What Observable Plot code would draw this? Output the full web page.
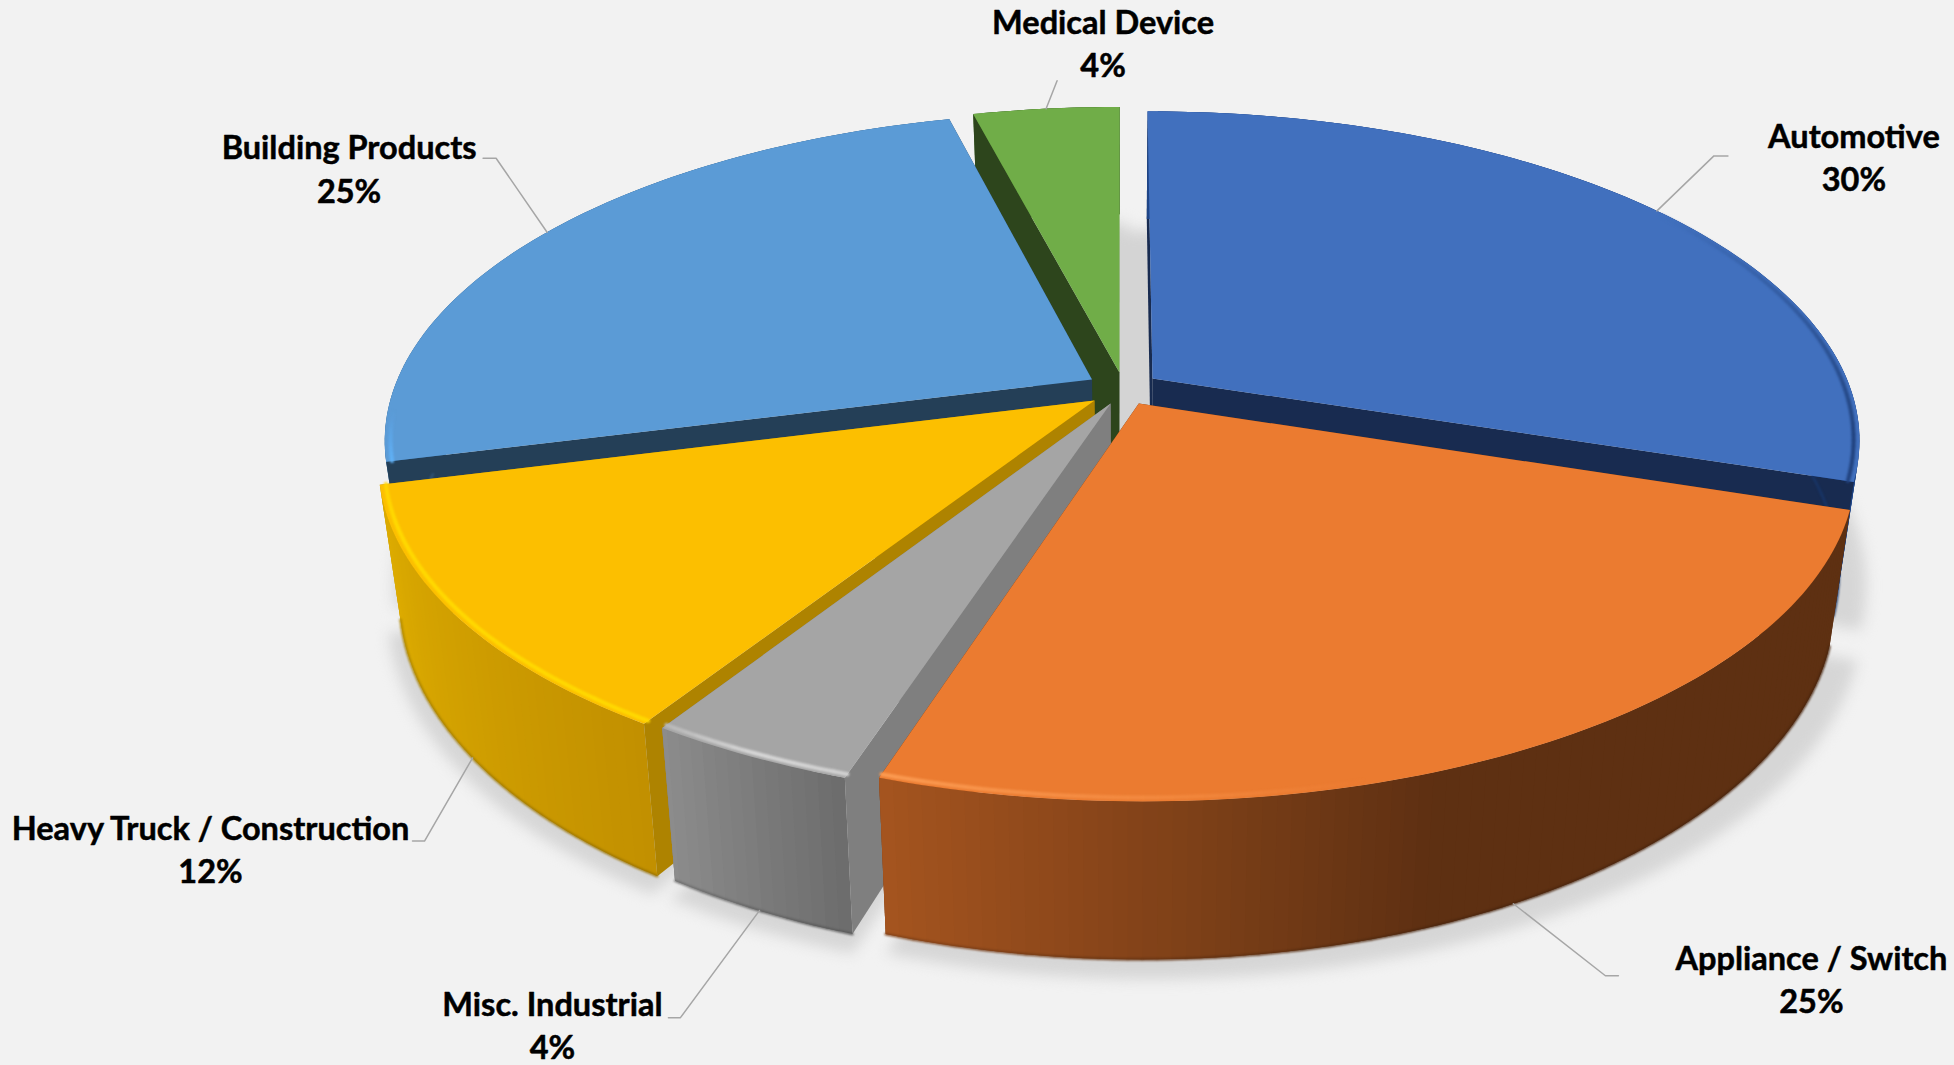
<!DOCTYPE html>
<html>
<head>
<meta charset="utf-8">
<style>
html,body{margin:0;padding:0;background:#f2f2f2;overflow:hidden}
svg{display:block}
</style>
<script src="https://cdn.jsdelivr.net/npm/d3@7"></script>
<script src="https://cdn.jsdelivr.net/npm/@observablehq/plot@0.6"></script>
</head>
<body>
<div id="chart"></div>
<script>
// ---- data: clockwise from twelve o'clock
const categories = ["Automotive", "Appliance / Switch", "Misc. Industrial", "Heavy Truck / Construction", "Building Products", "Medical Device"];
const shares = [30, 25, 4, 12, 25, 4];

// ---- styles
const topColors = ["#4170be", "#eb7b30", "#a5a5a5", "#fcbf00", "#5b9bd6", "#70ad48"];
const cutColors = ["#182b50", "#5e3012", "#7f7f7f", "#ae8300", "#243f57", "#2d451c"];
const wallStops = [
  [[0, 108], ["#1f4587", "#1f4587"]],
  [[198, 160], ["#a5541f", "#5e3012"]],
  [[198, 212.4], ["#6c6c6c", "#8c8c8c"]],
  [[212.4, 255.6], ["#c29000", "#dfae00"]],
  [[255.6, 345.6], ["#3d6f9c", "#3d6f9c"]],
  [[345.6, 360], ["#3f6a28", "#3f6a28"]]
];
// bevel light along the rim, only over the stretch of rim that has one
const rimStops = [
  {from: 55, to: 108, dom: [55, 100], rng: ["#4170be", "#22437f"]},
  {from: 165, to: 198, dom: [198, 165], rng: ["#fb9a52", "#eb7b30"]},
  {from: 198, to: 212.4, dom: [198, 205, 212.4], rng: ["#d0d0d0", "#d8d8d8", "#b8b8b8"]},
  {from: 212.4, to: 255.6, dom: [212.4, 250, 255.6], rng: ["#ffd900", "#ffd900", "#ffd400"]},
  {from: 255.6, to: 264, dom: [255.6, 264], rng: ["#60b2f8", "#5b9bd6"]},
  null
];

// ---- perspective of the pie plane and how far each slice is pulled from the centre
const cx = 1120, cy = 390, a = 699, b = 320, k = 0.1825, wallH = 128, taper = 0.972;
const pull = [[0.046, -0.0376], [0.026, 0.0403], [-0.014, 0.0403], [-0.037, 0.031], [-0.041, -0.0347], [-0.0015, -0.057]];
// leader elbow, leader tail and label centre, relative to the rim point at the slice's middle angle
const leaderLayout = [
  {elbow: [57, -55], tail: 14, label: [197, -55]},
  {elbow: [92, 72], tail: 13, label: [298, 74]},
  {elbow: [-79, 107], tail: -12, label: [-207, 113]},
  {elbow: [-48, 83], tail: -12, label: [-262, 90]},
  {elbow: [-51, -74], tail: -13, label: [-198, -65]},
  {elbow: [11, -28], tail: 0, label: [57, -67]}
];
const paintOrder = [0, 5, 4, 3, 2, 1];

const rad = Math.PI / 180;
const total = d3.sum(shares);
const ends = Array.from(d3.cumsum(shares), (s) => (s / total) * 360);
const slices = categories.map((name, i) => ({
  i, name, share: shares[i],
  start: i ? ends[i - 1] : 0, end: ends[i],
  ou: pull[i][0], ov: pull[i][1]
}));

function project(u, v, low) {
  const w = 1 / (1 - k * v);
  let X = cx + a * u * w, Y = cy + b * v * w;
  if (low) { X = cx + (X - cx) * taper; Y += wallH * w; }
  return [X, Y];
}
const rim = (s, t, low, r = 1) => project(s.ou + r * Math.sin(t * rad), s.ov - r * Math.cos(t * rad), low);
const apex = (s, low) => project(s.ou, s.ov, low);
const sweep = (s, step = 1, from = s.start, to = s.end) => { const t = d3.range(from, to, step); t.push(to); return t; };
const ramp = (dom, rng) => d3.scaleLinear().domain(dom).range(rng).interpolate(d3.interpolateRgb).clamp(true);

let nextId = 0;
const shape = (pts, c) => { const id = nextId++; return pts.map(([x, y]) => ({x, y, id, c})); };

// soft ground shadow: each slice, plus the floor seen through the gap at the back
const off = ([x, y]) => [x + 8 + (x - cx) * 0.012, y + 12];
const shadowRows = slices.flatMap((s) =>
  shape([apex(s, true), ...sweep(s).map((t) => rim(s, t, true, 1.015)), apex(s, true)].map(off), "#d6d6d6")
);
const floorPatch = {ou: 0.02, ov: -0.04};
shadowRows.push(...shape(
  [apex(floorPatch, true), ...d3.range(-14, 15, 2).map((t) => rim(floorPatch, t, true, 1.0))].map(off), "#d4d4d4"
));

const marks = [
  Plot.line(shadowRows, {x: "x", y: "y", z: "id", fill: "c", stroke: "none", imageFilter: "blur(7px)"})
];

for (const idx of paintOrder) {
  const s = slices[idx];
  const wallCol = ramp(...wallStops[idx]);
  const ts = sweep(s);
  const cut = (t) => shape([apex(s), rim(s, t), rim(s, t, true), apex(s, true)], cutColors[idx]);
  const body = [];
  // cut faces turned away from the viewer go under the wall, the one facing the viewer over it
  const startFaces = -Math.sin(s.start * rad) > 0.001;
  const endFaces = Math.sin(s.end * rad) > 0.001;
  if (!startFaces) body.push(...cut(s.start));
  if (!endFaces) body.push(...cut(s.end));
  // curved wall: each facet overlaps the next so that no seam shows
  for (let j = 0; j < ts.length - 1; j++) {
    const t0 = ts[j], t1 = ts[Math.min(j + 2, ts.length - 1)];
    body.push(...shape([rim(s, t0), rim(s, t1), rim(s, t1, true), rim(s, t0, true)], wallCol((t0 + ts[j + 1]) / 2)));
  }
  if (startFaces) body.push(...cut(s.start));
  if (endFaces) body.push(...cut(s.end));
  marks.push(Plot.line(body, {x: "x", y: "y", z: "id", fill: "c", stroke: "none"}));

  // darker foot of the wall
  const foot = [];
  for (let j = 0; j < ts.length - 1; j++) {
    const mid = (ts[j] + ts[j + 1]) / 2;
    if (Math.cos(mid * rad) > 0.1) continue;
    const p = rim(s, ts[j], true), q = rim(s, ts[j + 1], true);
    foot.push({x1: p[0], y1: p[1], x2: q[0], y2: q[1], c: d3.color(wallCol(ts[j])).darker(0.7).formatHex()});
  }
  marks.push(Plot.link(foot, {x1: "x1", y1: "y1", x2: "x2", y2: "y2", stroke: "c", strokeWidth: 2.2, strokeLinecap: "round", imageFilter: "blur(0.8px)"}));

  // flat top
  const top = shape([apex(s), ...ts.map((t) => rim(s, t)), apex(s)], topColors[idx]);
  marks.push(Plot.line(top, {x: "x", y: "y", z: "id", fill: "c", stroke: "none"}));

  // bevel light along the rim
  const spec = rimStops[idx];
  if (spec) {
    const rimCol = ramp(spec.dom, spec.rng);
    const rt = sweep(s, 1, spec.from, spec.to);
    const bevel = [];
    for (let j = 0; j < rt.length - 1; j++) {
      const p = rim(s, rt[j], false, 0.992), q = rim(s, rt[j + 1], false, 0.992);
      bevel.push({x1: p[0], y1: p[1], x2: q[0], y2: q[1], c: rimCol((rt[j] + rt[j + 1]) / 2)});
    }
    marks.push(Plot.link(bevel, {x1: "x1", y1: "y1", x2: "x2", y2: "y2", stroke: "c", strokeWidth: 4, strokeLinecap: "round", imageFilter: "blur(1.2px)"}));
  }
}

// leaders and labels
const leaderRows = [], labelRows = [];
slices.forEach((s, i) => {
  const mid = (s.start + s.end) / 2;
  const [x0, y0] = rim(s, mid, Math.cos(mid * rad) < 0);
  const L = leaderLayout[i];
  const pts = [[x0, y0], [x0 + L.elbow[0], y0 + L.elbow[1]]];
  if (L.tail) pts.push([x0 + L.elbow[0] + L.tail, y0 + L.elbow[1]]);
  leaderRows.push(...shape(pts, "#a6a6a6"));
  labelRows.push({x: x0 + L.label[0], y: y0 + L.label[1], text: `${s.name}\n${s.share}%`});
});
marks.push(Plot.line(leaderRows, {x: "x", y: "y", z: "id", stroke: "#a6a6a6", strokeWidth: 1.5}));
marks.push(Plot.text(labelRows, {
  x: "x", y: "y", text: "text", fill: "#000", stroke: "#000", strokeWidth: 0.5,
  fontFamily: "Lato", fontWeight: 700, fontSize: 32.5, lineHeight: 1.33, textAnchor: "middle"
}));

const chart = Plot.plot({
  width: 1954, height: 1065, margin: 0,
  style: {background: "#f2f2f2"},
  color: {type: "identity"},
  x: {type: "linear", domain: [0, 1954], range: [0, 1954], axis: null},
  y: {type: "linear", domain: [0, 1065], range: [0, 1065], axis: null},
  marks
});
document.getElementById("chart").append(chart);
</script>
</body>
</html>
